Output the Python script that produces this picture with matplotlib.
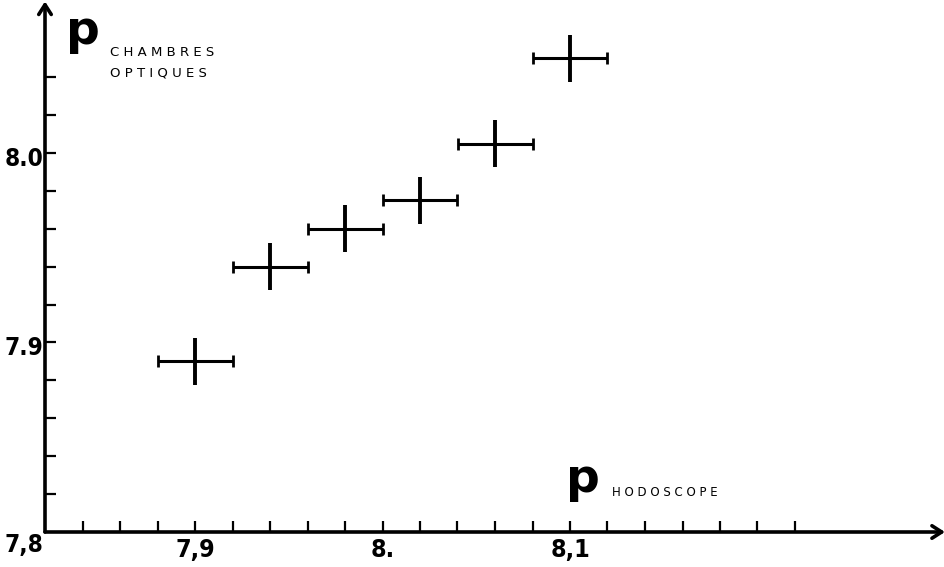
import matplotlib
matplotlib.use("Agg")
import matplotlib.pyplot as plt
import numpy as np

# Data
p_hodoscope = [7.90, 7.94, 7.98, 8.02, 8.06, 8.10]
p_chambres = [7.89, 7.94, 7.96, 7.975, 8.005, 8.05]
x_err = [0.02, 0.02, 0.02, 0.02, 0.02, 0.02]
y_err = [0.0125, 0.0125, 0.0125, 0.0125, 0.0125, 0.0125]

x_tick_labels = {7.9: "7,9", 8.0: "8.", 8.1: "8,1"}
y_tick_labels = {7.8: "7,8", 7.9: "7.9", 8.0: "8.0"}

FONT = ["DejaVu Sans"]

W, H = 945, 567
fig = plt.figure(figsize=(W / 100, H / 100), dpi=100)
left_px, bottom_px = 45, 35
xmin, xmax = 7.82, 8.30
ymin, ymax = 7.80, 8.08
pxx = 1875.0  # px per unit x
pxy = 1895.0  # px per unit y
ax = fig.add_axes([left_px / W, bottom_px / H, (xmax - xmin) * pxx / W, (ymax - ymin) * pxy / H])
ax.set_xlim(xmin, xmax)
ax.set_ylim(ymin, ymax)
for s in ax.spines.values():
    s.set_visible(False)

# axes with arrows
ax.annotate("", xy=(1.0, 0), xytext=(0, 0), xycoords="axes fraction",
            arrowprops=dict(arrowstyle="->,head_length=0.7,head_width=0.45", lw=2.6, color="black",
                            shrinkA=0, shrinkB=0))
ax.annotate("", xy=(0, 1.0), xytext=(0, 0), xycoords="axes fraction",
            arrowprops=dict(arrowstyle="->,head_length=0.7,head_width=0.45", lw=2.6, color="black",
                            shrinkA=0, shrinkB=0))

# ticks
xt = np.round(np.arange(7.84, 8.221, 0.02), 2)
yt = np.round(np.arange(7.82, 8.041, 0.02), 2)
ax.set_xticks(xt)
ax.set_yticks(yt)
ax.set_xticklabels([])
ax.set_yticklabels([])
ax.tick_params(axis="both", direction="in", length=8, width=1.6, color="black")

# tick labels as text
for v, s in x_tick_labels.items():
    ax.text(v, ymin - 18 / pxy, s, ha="center", va="center", fontsize=18, fontweight="bold",
            family=FONT, fontstretch="condensed")
for v, s in y_tick_labels.items():
    dy = -13 / pxy if v == 7.8 else -6 / pxy
    ax.text(xmin - 2 / pxx, v + dy, s, ha="right", va="center", fontsize=17.5, fontweight="bold",
            family=FONT, fontstretch="condensed", clip_on=False)

# data
ax.errorbar(p_hodoscope, p_chambres, xerr=x_err, fmt="none", ecolor="black", elinewidth=2.2,
            capsize=4.5, capthick=2.0, clip_on=False)
ax.errorbar(p_hodoscope, p_chambres, yerr=y_err, fmt="none", ecolor="black", elinewidth=2.8,
            capsize=0, clip_on=False)

# axis titles
fig.text(66 / W, 1 - 31 / H, "p", fontsize=34, fontweight="bold", family=FONT, va="center", ha="left")
fig.text(110 / W, 1 - 53 / H, "C H A M B R E S", fontsize=9.5, family=FONT, va="center", ha="left")
fig.text(110 / W, 1 - 73 / H, "O P T I Q U E S", fontsize=9.5, family=FONT, va="center", ha="left")
fig.text(566 / W, 1 - 480 / H, "p", fontsize=34, fontweight="bold", family=FONT, va="center", ha="left")
fig.text(612 / W, 1 - 493 / H, "H O D O S C O P E", fontsize=8.5, family=FONT, va="center", ha="left")

fig.savefig("out.png", dpi=100)
